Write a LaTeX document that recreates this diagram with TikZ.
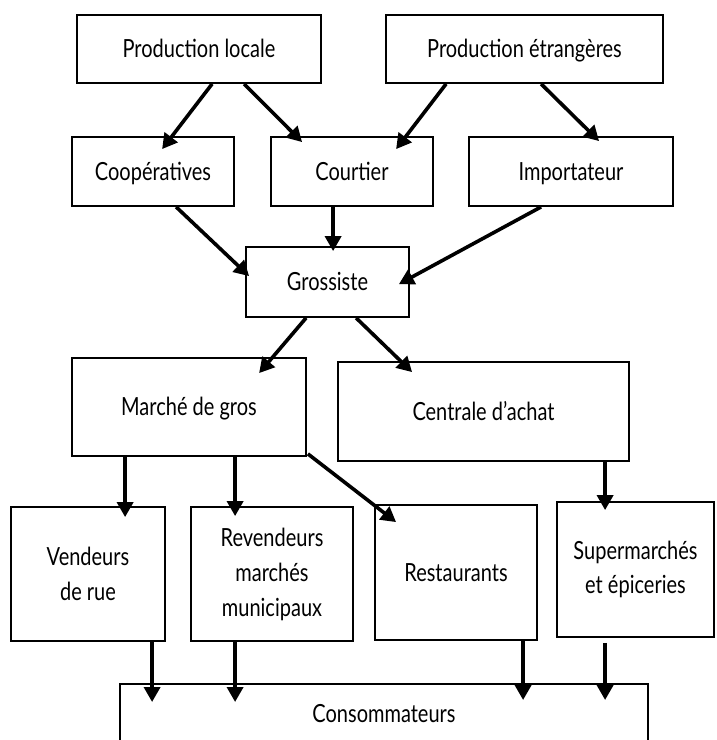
\documentclass[tikz,border=0pt]{standalone}
\usepackage{fontspec}
\setmainfont{Lato}[FakeStretch=0.8]
\usetikzlibrary{arrows.meta,calc}
\begin{document}
\begin{tikzpicture}[x=1pt,y=-1pt,
  bx/.style={draw, line width=1.8pt, inner sep=0pt, align=center, font=\fontsize{25}{35}\selectfont},
  one/.style={text height=17.5pt, text depth=0pt},
  arr/.style={line width=3.6pt, -{Triangle[length=15pt,width=16pt]}}]
\useasboundingbox (0,0) rectangle (716,740);
\clip (0,0) rectangle (716,740);
% row 1
\node[bx,one,minimum width=244pt,minimum height=68pt] (pl) at (199,49) {Production locale};
\node[bx,one,minimum width=277pt,minimum height=68pt] (pe) at (524.5,49) {Production étrangères};
% row 2
\node[bx,one,minimum width=162pt,minimum height=69pt] (co) at (153,171.5) {Coopératives};
\node[bx,one,minimum width=162pt,minimum height=69pt] (cu) at (352,171.5) {Courtier};
\node[bx,one,minimum width=204pt,minimum height=69pt] (im) at (571,171.5) {Importateur};
% row 3
\node[bx,one,minimum width=163pt,minimum height=70pt] (gr) at (327.5,282) {Grossiste};
% row 4
\node[bx,one,minimum width=234pt,minimum height=98pt] (mg) at (189,407) {Marché de gros};
\node[bx,one,minimum width=291pt,minimum height=99pt] (ca) at (483.5,411.5) {Centrale d’achat};
% row 5
\node[bx,minimum width=154pt,minimum height=134pt] (vr) at (88,574) {Vendeurs\\de rue};
\node[bx,minimum width=162pt,minimum height=134pt] (rv) at (272,574) {Revendeurs\\marchés\\municipaux};
\node[bx,one,minimum width=162pt,minimum height=135pt] (re) at (456,572.5) {Restaurants};
\node[bx,minimum width=157pt,minimum height=135pt,font=\fontsize{25}{34}\selectfont] (su) at (635.5,569.5) {Supermarchés\\et épiceries};
% row 6
\node[bx,minimum width=528pt,text height=30pt,text depth=50pt,inner ysep=9pt,anchor=north] (cs) at (384,683) {Consommateurs};
% arrows
\draw[arr] ($(pl.south west)+(136,0)$) -- ($(co.north west)+(91,13)$);
\draw[arr] ($(pl.south west)+(168,0)$) -- ($(cu.north west)+(32,6)$);
\draw[arr] ($(pe.south west)+(61,0)$) -- ($(cu.north west)+(126,13)$);
\draw[arr] ($(pe.south west)+(156,0)$) -- ($(im.north west)+(131,5)$);
\draw[arr] ($(co.south west)+(105,0)$) -- ($(gr.north west)+(4,30)$);
\draw[arr] ($(cu.south west)+(63,0)$) -- ($(gr.north west)+(88,5)$);
\draw[arr] ($(im.south west)+(73,0)$) -- ($(gr.north east)+(-11,38)$);
\draw[arr] ($(gr.south west)+(61,0)$) -- ($(mg.north west)+(188,16)$);
\draw[arr] ($(gr.south west)+(111,0)$) -- ($(ca.north west)+(75,11)$);
\draw[arr] ($(mg.south west)+(54,0)$) -- ($(vr.north west)+(115,11)$);
\draw[arr] ($(mg.south west)+(164,0)$) -- ($(rv.north west)+(45,10)$);
\draw[arr] ($(mg.south east)+(1,-3)$) -- ($(re.north west)+(22,18)$);
\draw[arr] ($(ca.south west)+(268,0)$) -- ($(su.north west)+(49,9)$);
\draw[arr] ($(vr.south west)+(142,0)$) -- ($(cs.north west)+(33,19)$);
\draw[arr] ($(rv.south west)+(45,0)$) -- ($(cs.north west)+(116,19)$);
\draw[arr] ($(re.south west)+(149,0)$) -- ($(cs.north west)+(404,17)$);
\draw[arr] ($(su.south west)+(49,5)$) -- ($(cs.north west)+(486,17)$);
\end{tikzpicture}
\end{document}
